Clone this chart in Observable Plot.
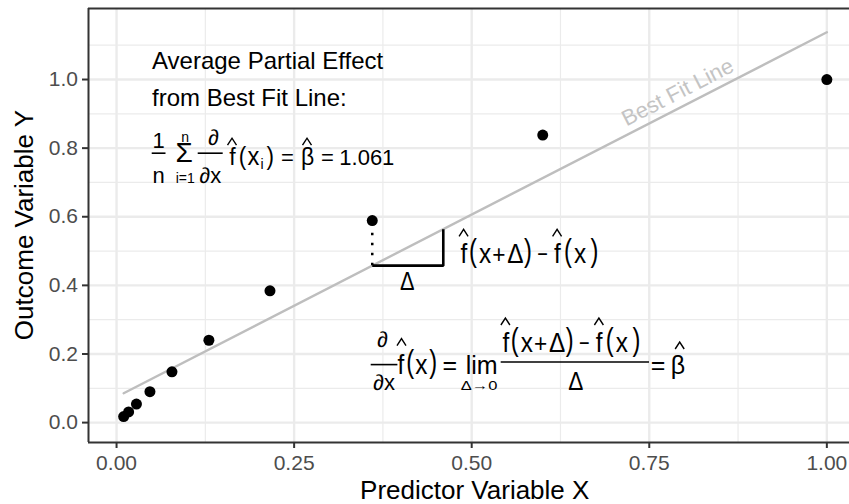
<!DOCTYPE html>
<html>
<head>
<meta charset="utf-8">
<script src="https://cdn.jsdelivr.net/npm/d3@7"></script>
<script src="https://cdn.jsdelivr.net/npm/@observablehq/plot@0.6"></script>
<style>
html, body { margin: 0; padding: 0; background: #fff; overflow: hidden; }
</style>
</head>
<body>
<div id="chart"></div>
<script>
// ---------------- data ----------------
const predictorX = [0.01, 0.017, 0.028, 0.047, 0.078, 0.13, 0.216, 0.36, 0.6, 1.0];
const outcomeY   = [0.0175, 0.031, 0.054, 0.09, 0.148, 0.24, 0.384, 0.589, 0.838, 1.0];
const xTicks = [0, 0.25, 0.5, 0.75, 1];
const xTickLabels = ["0.00", "0.25", "0.50", "0.75", "1.00"];
const xMinorTicks = [0.125, 0.375, 0.625, 0.875];
const yTicks = [0, 0.2, 0.4, 0.6, 0.8, 1.0];
const yTickLabels = ["0.0", "0.2", "0.4", "0.6", "0.8", "1.0"];
const yMinorTicks = [0.1, 0.3, 0.5, 0.7, 0.9, 1.1];
const xDomain = [-0.0395, 1.0495];
const yDomain = [-0.058, 1.207];
const deltaSpan = [0.36, 0.46];
const fitLabelX = [0.79];
const fitLabelText = "Best Fit Line";
const apeLines = ["Average Partial Effect", "from Best Fit Line:"];
const apeValue = "1.061";
const xTitle = "Predictor Variable X";
const yTitle = "Outcome Variable Y";
const apeAnchor = [0.05, 1.0];
const apeFormulaAnchor = [0.05, 0.75];
const limitFormulaAnchor = [0.36, 0.15];

// ---------------- derived ----------------
const FONT = "'Liberation Sans', Arial, Helvetica, sans-serif";
const W = 849, H = 504, ML = 88, MR = -12.5, MT = 8, MB = 62;
const pts = predictorX.map((x, i) => ({x, y: outcomeY[i]}));
const mx = d3.mean(predictorX), my = d3.mean(outcomeY);
const slope = d3.sum(pts, p => (p.x - mx) * (p.y - my)) / d3.sum(pts, p => (p.x - mx) ** 2);
const intercept = my - slope * mx;
const fit = x => intercept + slope * x;
const [d0, d1] = deltaSpan;
const pointAtD0 = pts.find(p => p.x === d0);
const triangle = [{x: d0, y: fit(d0)}, {x: d1, y: fit(d0)}, {x: d1, y: fit(d1)}];
const dotted = [{x: d0, y1: fit(d0), y2: pointAtD0.y}];
const pxPerX = (W - MR - ML) / (xDomain[1] - xDomain[0]);
const pxPerY = (H - MB - MT) / (yDomain[1] - yDomain[0]);
const fitAngle = -Math.atan(slope * pxPerY / pxPerX) * 180 / Math.PI;

// reference-pixel frame used to lay out formula pieces relative to their anchors
const REFX = v => 115 + v * 711.3;
const REFY = v => 421.7 - v * 342.4;
const MS = 0.87; // horizontal squeeze of the math glyphs

function numerator(fx, base) {
  return [
    {hat: fx + 3, y: base - 34},
    {t: "f", x: fx, y: base, s: 28, sx: MS},
    {t: "(", x: fx + 8.3, y: base - 2, s: 32, sx: MS * 0.85},
    {t: "x", x: fx + 18.3, y: base, s: 28, sx: MS},
    {t: "+", x: fx + 31.7, y: base, s: 26, sx: MS},
    {t: "Δ", x: fx + 46.7, y: base, s: 28, sx: MS},
    {t: ")", x: fx + 63.3, y: base - 2, s: 32, sx: MS * 0.85},
    {t: "−", x: fx + 76.7, y: base, s: 26, sx: MS * 0.8},
    {hat: fx + 96.5, y: base - 34},
    {t: "f", x: fx + 93.3, y: base, s: 28, sx: MS},
    {t: "(", x: fx + 103.3, y: base - 2, s: 32, sx: MS * 0.85},
    {t: "x", x: fx + 113.3, y: base, s: 28, sx: MS},
    {t: ")", x: fx + 130, y: base - 2, s: 32, sx: MS * 0.85}
  ];
}

const formulas = [
  { at: apeAnchor, items: [
      {t: apeLines[0], x: 151, y: 69.3, s: 24},
      {t: apeLines[1], x: 151, y: 106, s: 24}
  ]},
  { at: apeFormulaAnchor, items: [
      {t: "1", x: 157.5, y: 148.3, s: 22, a: "middle"},
      {bar: [150.7, 164.5], y: 153.3},
      {t: "n", x: 157.5, y: 183.3, s: 22, a: "middle"},
      {sum: "Σ", x: 174.5, y: 162.2, s: 28, upper: "n", ux: 180.3, uy: 142.3, us: 14},
      {t: "i=1", x: 184.2, y: 183.3, s: 14, a: "middle"},
      {t: "∂", x: 212.5, y: 145, s: 22, a: "middle"},
      {bar: [196.7, 221.7], y: 153.3},
      {t: "∂x", x: 209.2, y: 183.3, s: 22, a: "middle"},
      {hat: 231, y: 138.3},
      {t: "f", x: 228.3, y: 165, s: 23},
      {t: "(", x: 237.8, y: 165, s: 25, sx: 0.9},
      {t: "x", x: 246.5, y: 165, s: 25, sx: 0.95},
      {t: "i", x: 259.5, y: 169, s: 14},
      {t: ")", x: 265.5, y: 165, s: 25, sx: 0.9},
      {t: "=", x: 280, y: 165, s: 22},
      {hat: 306, y: 138.3},
      {t: "β", x: 300, y: 165, s: 23},
      {t: "=", x: 320, y: 165, s: 22},
      {t: apeValue, x: 338.3, y: 165, s: 22}
  ]},
  { at: [d1, (fit(d0) + fit(d1)) / 2], items: numerator(460, 263.3) },
  { at: [(d0 + d1) / 2, fit(d0)], items: [
      {t: "Δ", x: 406.6, y: 290, s: 25, a: "middle", sx: MS}
  ]},
  { at: limitFormulaAnchor, items: [
      {t: "∂", x: 381.7, y: 346.7, s: 22, a: "middle"},
      {bar: [370, 396.7], y: 364.3},
      {t: "∂x", x: 383.3, y: 390, s: 22, a: "middle"},
      {hat: 400.8, y: 338.3},
      {t: "f", x: 396.7, y: 373.3, s: 28, sx: MS},
      {t: "(", x: 405.5, y: 371.3, s: 32, sx: MS * 0.85},
      {t: "x", x: 414.5, y: 373.3, s: 28, sx: MS},
      {t: ")", x: 428.5, y: 371.3, s: 32, sx: MS * 0.85},
      {t: "=", x: 441.7, y: 373.3, s: 25},
      {t: "lim", x: 465, y: 373.3, s: 25},
      {t: "Δ→0", x: 478.3, y: 390, s: 12.5, a: "middle", len: 36.7},
      {bar: [500, 648.3], y: 361.7},
      ...numerator(501.7, 351.7),
      {t: "Δ", x: 575, y: 390, s: 26, a: "middle", sx: MS},
      {t: "=", x: 650, y: 373.3, s: 25},
      {hat: 679, y: 341.7},
      {t: "β", x: 670, y: 373.3, s: 25}
  ]}
];

function drawItem(g, it, ox, oy) {
  if (it.bar) {
    g.append("line").attr("x1", it.bar[0] + ox).attr("x2", it.bar[1] + ox)
      .attr("y1", it.y + oy).attr("y2", it.y + oy)
      .attr("stroke", "black").attr("stroke-width", 1.6);
  } else if (it.hat !== undefined) {
    const cx = it.hat + ox, top = it.y + oy;
    g.append("path").attr("d", `M${cx - 4.5},${top + 7}L${cx},${top}L${cx + 4.5},${top + 7}`)
      .attr("fill", "none").attr("stroke", "black").attr("stroke-width", 1.4);
  } else if (it.sum) {
    // summation sign with its upper limit, as one text element
    const t = g.append("text").attr("fill", "black").attr("text-anchor", "start");
    t.append("tspan").attr("x", it.x + ox).attr("y", it.y + oy).attr("font-size", it.s).text(it.sum);
    t.append("tspan").attr("x", it.ux + ox).attr("y", it.uy + oy).attr("font-size", it.us).text(it.upper);
  } else {
    const t = g.append("text")
      .attr("transform", `translate(${it.x + ox},${it.y + oy}) scale(${it.sx || 1},1)`)
      .attr("font-size", it.s).attr("text-anchor", it.a || "start")
      .attr("fill", "black").text(it.t);
    if (it.len) t.attr("textLength", it.len).attr("lengthAdjust", "spacingAndGlyphs");
  }
}

function annotations(index, scales, values, dims) {
  const fx = d3.scaleLinear(xDomain, [ML, W - MR]);
  const fy = d3.scaleLinear(yDomain, [H - MB, MT]);
  const sx = scales && typeof scales.x === "function" ? scales.x : fx;
  const sy = scales && typeof scales.y === "function" ? scales.y : fy;
  const d = dims || {width: W, height: H, marginLeft: ML, marginRight: MR, marginTop: MT, marginBottom: MB};
  const g = d3.create("svg:g").attr("font-family", FONT);
  for (const f of formulas) {
    const ox = sx(f.at[0]) - REFX(f.at[0]);
    const oy = sy(f.at[1]) - REFY(f.at[1]);
    for (const it of f.items) drawItem(g, it, ox, oy);
  }
  const cx = (d.marginLeft + d.width - d.marginRight) / 2;
  const cy = (d.marginTop + d.height - d.marginBottom) / 2;
  g.append("text").attr("x", cx).attr("y", d.height - 5.5)
    .attr("text-anchor", "middle").attr("font-size", 26).attr("fill", "black").text(xTitle);
  g.append("text").attr("transform", `translate(33.3,${cy}) rotate(-90)`)
    .attr("text-anchor", "middle").attr("font-size", 26).attr("fill", "black").text(yTitle);
  return g.node();
}

const grid = {stroke: "#ebebeb", strokeOpacity: 1};
const plot = Plot.plot({
  width: W, height: H,
  marginLeft: ML, marginRight: MR, marginTop: MT, marginBottom: MB,
  style: {fontFamily: FONT, background: "#fff", overflow: "hidden"},
  x: {domain: xDomain},
  y: {domain: yDomain},
  marks: [
    Plot.gridX(xMinorTicks, {...grid, strokeWidth: 1.2}),
    Plot.gridY(yMinorTicks, {...grid, strokeWidth: 1.2}),
    Plot.gridX(xTicks, {...grid, strokeWidth: 2.4}),
    Plot.gridY(yTicks, {...grid, strokeWidth: 2.4}),
    Plot.axisX({ticks: xTicks, tickFormat: v => xTickLabels[xTicks.indexOf(v)], tickSize: 6, tickPadding: 7,
      fontSize: 21, fill: "#4d4d4d", stroke: "#333", strokeWidth: 2, label: null}),
    Plot.axisY({ticks: yTicks, tickFormat: v => yTickLabels[yTicks.indexOf(v)], tickSize: 6, tickPadding: 4.5,
      fontSize: 21, fill: "#4d4d4d", stroke: "#333", strokeWidth: 2, label: null}),
    Plot.linearRegressionY(pts, {x: "x", y: "y", ci: 0, stroke: "#bebebe", strokeWidth: 2.4}),
    Plot.text(fitLabelX.map(x => ({x, y: fit(x)})), {x: "x", y: "y", text: () => fitLabelText,
      rotate: fitAngle, dy: -16.5, fill: "#c4c4c4", fontSize: 22}),
    Plot.ruleX(dotted, {x: "x", y1: "y1", y2: "y2", stroke: "black", strokeWidth: 2.5, strokeDasharray: "2.5,7.5"}),
    Plot.line(triangle, {x: "x", y: "y", stroke: "black", strokeWidth: 2.6, strokeLinejoin: "miter", strokeLinecap: "butt"}),
    Plot.dot(pts, {x: "x", y: "y", r: 5.5, fill: "black", stroke: "none"}),
    Plot.ruleY([yDomain[0], yDomain[1]], {stroke: "#333", strokeWidth: 2}),
    Plot.ruleX([xDomain[0]], {stroke: "#333", strokeWidth: 2}),
    annotations
  ]
});
document.getElementById("chart").appendChild(plot);
</script>
</body>
</html>
